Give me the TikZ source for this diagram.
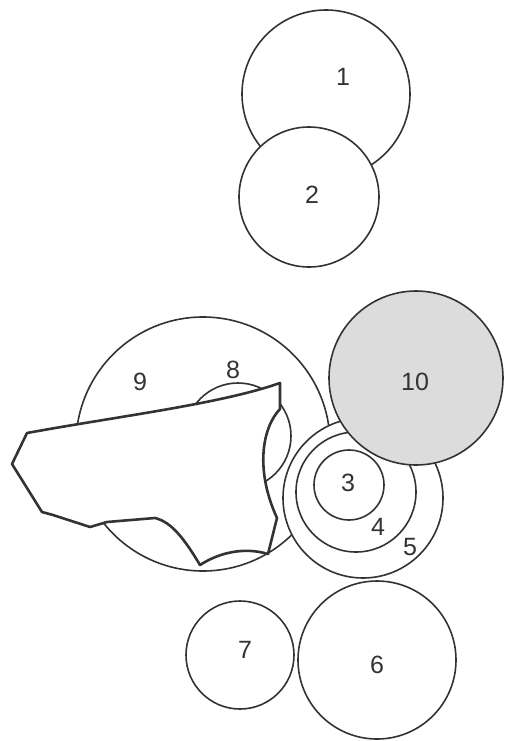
\documentclass[tikz,border=0pt]{standalone}
\usepackage{fontspec}
\setmainfont{Liberation Sans}
\definecolor{ink}{HTML}{333333}
\definecolor{shade}{HTML}{DCDCDC}
\begin{document}
\begin{tikzpicture}[x=1pt,y=-1pt,
  circ/.style={circle,draw=ink,line width=1.6pt,fill=white,inner sep=0pt,outer sep=0pt},
  lbl/.style={text=ink,font=\fontsize{25}{28}\selectfont,inner sep=0pt},
  shard/.style={draw=ink,line width=2.6pt,fill=white,line join=round}]
\useasboundingbox (0,0) rectangle (504,741);
\fill[white] (0,0) rectangle (504,741);
% circle 9 and 8
\node[circ,minimum size=254pt] (c9) at (203,444) {};
\node[circ,minimum size=106pt] (c8) at (238,436) {};
% shard (polygon) over 9 and 8
\draw[shard] (27,433) .. controls (120,416) and (220,404) .. (280,383)
  -- (280,409) .. controls (262,428) and (255,470) .. (277,518)
  -- (268,554) .. controls (245,547) and (220,552) .. (200,565)
  .. controls (185,540) and (172,522) .. (155,518)
  -- (107,522) -- (90,527) -- (53,515) -- (42,512) -- (12,464) -- cycle;
% circles 5, 4, 3
\node[circ,minimum size=160pt] (c5) at (363,498) {};
\node[circ,minimum size=120pt] (c4) at (356,492) {};
\node[circ,minimum size=70pt] (c3) at (349,485) {};
% circle 10 (shaded)
\node[circ,fill=shade,minimum size=174pt] (c10) at (416,378) {};
% circles 1 and 2
\node[circ,minimum size=168pt] (c1) at (326,94) {};
\node[circ,minimum size=140pt] (c2) at (309,197) {};
% circles 7 and 6
\node[circ,minimum size=108pt] (c7) at (240,655) {};
\node[circ,minimum size=158pt] (c6) at (377,660) {};
% labels
\node[lbl] (l1) at (343,77) {1};
\node[lbl] (l2) at (312,195) {2};
\node[lbl] (l3) at (348,483) {3};
\node[lbl] (l4) at (378,527) {4};
\node[lbl] (l5) at (410,547) {5};
\node[lbl] (l6) at (377,665) {6};
\node[lbl] (l7) at (245,650) {7};
\node[lbl] (l8) at (233,370) {8};
\node[lbl] (l9) at (140,382) {9};
\node[lbl] (l10) at (415,382) {10};
\end{tikzpicture}
\end{document}
